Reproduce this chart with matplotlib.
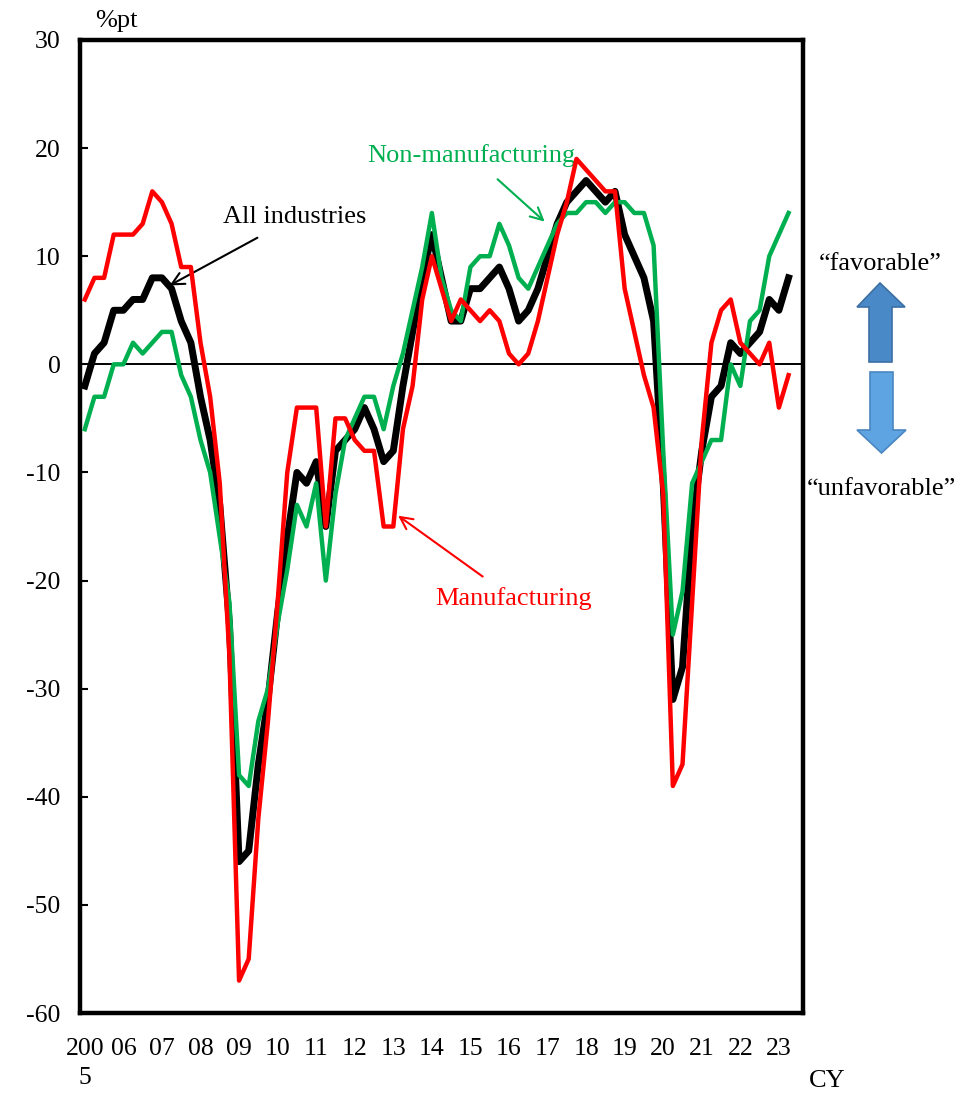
import numpy as np
import matplotlib.pyplot as plt
from matplotlib.patches import Polygon

plt.rcParams['font.family'] = ['Liberation Serif', 'DejaVu Serif']
plt.rcParams['axes.unicode_minus'] = False

# quarterly DI, 2005Q1 .. 2023Q2
all_industries = [-2, 1, 2, 5, 5, 6, 6, 8, 8, 7, 4, 2,
                  -3, -7, -13, -24, -46, -45, -37, -31, -23, -16, -10, -11,
                  -9, -15, -8, -7, -6, -4, -6, -9, -8, -2, 3, 8,
                  12, 8, 4, 4, 7, 7, 8, 9, 7, 4, 5, 7,
                  10, 13, 15, 16, 17, 16, 15, 16, 12, 10, 8, 4,
                  -11, -31, -28, -15, -8, -3, -2, 2, 1, 2, 3, 6,
                  5, 8]
manufacturing = [6, 8, 8, 12, 12, 12, 13, 16, 15, 13, 9, 9,
                 2, -3, -11, -27, -57, -55, -42, -33, -22, -10, -4, -4,
                 -4, -15, -5, -5, -7, -8, -8, -15, -15, -6, -2, 6,
                 10, 7, 4, 6, 5, 4, 5, 4, 1, 0, 1, 4,
                 8, 12, 15, 19, 18, 17, 16, 16, 7, 3, -1, -4,
                 -12, -39, -37, -22, -7, 2, 5, 6, 2, 1, 0, 2,
                 -4, -1]
non_manufacturing = [-6, -3, -3, 0, 0, 2, 1, 2, 3, 3, -1, -3,
                     -7, -10, -16, -22, -38, -39, -33, -30, -24, -19, -13, -15,
                     -11, -20, -12, -7, -5, -3, -3, -6, -2, 1, 5, 9,
                     14, 8, 5, 4, 9, 10, 10, 13, 11, 8, 7, 9,
                     11, 13, 14, 14, 15, 15, 14, 15, 15, 14, 14, 11,
                     -8, -25, -21, -11, -9, -7, -7, 0, -2, 4, 5, 10,
                     12, 14]
year_labels = ['200\n5', '06', '07', '08', '09', '10', '11', '12', '13', '14',
               '15', '16', '17', '18', '19', '20', '21', '22', '23']

W, H = 977, 1093
fig = plt.figure(figsize=(W / 100, H / 100), dpi=100)
ax = fig.add_axes([80 / W, 1 - 1013 / H, 723 / W, 973 / H])

x = np.arange(len(all_industries))
ax.axhline(0, color='black', lw=1.4, zorder=1)
ax.plot(x, all_industries, color='black', lw=5, zorder=3)
ax.plot(x, non_manufacturing, color='#00B050', lw=3.2, zorder=4)
ax.plot(x, manufacturing, color='#FF0000', lw=3.2, zorder=5)

ax.set_xlim(-0.5, 74.5)
ax.set_ylim(-60, 30)
ax.set_yticks(range(-60, 31, 10))
ax.set_xticks(np.arange(0, 4 * len(year_labels), 4))
ax.set_xticklabels(year_labels, fontsize=18.5, linespacing=1.4)
ax.tick_params(axis='x', length=0, pad=18)
ax.tick_params(axis='y', direction='in', length=6, width=1.5, pad=14, labelsize=18.5)
for s in ax.spines.values():
    s.set_linewidth(3.2)

fs = 19
ax.annotate('All industries', xy=(8.8, 7.3), xytext=(21.8, 13.6), fontsize=fs,
            ha='center', va='center', color='black',
            arrowprops=dict(arrowstyle='->', color='black', lw=1.5,
                            shrinkA=10, shrinkB=0, mutation_scale=22))
ax.annotate('Non-manufacturing', xy=(47.7, 13.2), xytext=(40.1, 19.3), fontsize=fs,
            ha='center', va='center', color='#00B050',
            arrowprops=dict(arrowstyle='->', color='#00B050', lw=1.5,
                            shrinkA=10, shrinkB=0, mutation_scale=22))
ax.annotate('Manufacturing', xy=(32.5, -14.0), xytext=(44.5, -21.7), fontsize=fs,
            ha='center', va='center', color='#FF0000',
            arrowprops=dict(arrowstyle='->', color='#FF0000', lw=1.5,
                            shrinkA=10, shrinkB=0, mutation_scale=22))

# overlay in pixel coordinates for the side notes
ov = fig.add_axes([0, 0, 1, 1], facecolor='none')
ov.set_xlim(0, W)
ov.set_ylim(H, 0)
ov.axis('off')

ov.text(95, 21, '%pt', fontsize=fs, ha='left', va='center')
ov.text(809, 1081, 'CY', fontsize=fs, ha='left', va='center')
ov.text(880, 264, '\u201cfavorable\u201d', fontsize=fs, ha='center', va='center')
ov.text(881, 489, '\u201cunfavorable\u201d', fontsize=fs, ha='center', va='center')

up = [(880, 283), (905, 307), (892, 307), (892, 362), (869, 362), (869, 307), (857, 307)]
down = [(870, 372), (893, 372), (893, 430), (906, 430), (881.5, 453), (857, 430), (870, 430)]
ov.add_patch(Polygon(up, closed=True, facecolor='#4A89C8', edgecolor='#3C6FA3', lw=1.2))
ov.add_patch(Polygon(down, closed=True, facecolor='#5EA4E2', edgecolor='#4A86C0', lw=1.2))

fig.savefig('out.png', dpi=100)
